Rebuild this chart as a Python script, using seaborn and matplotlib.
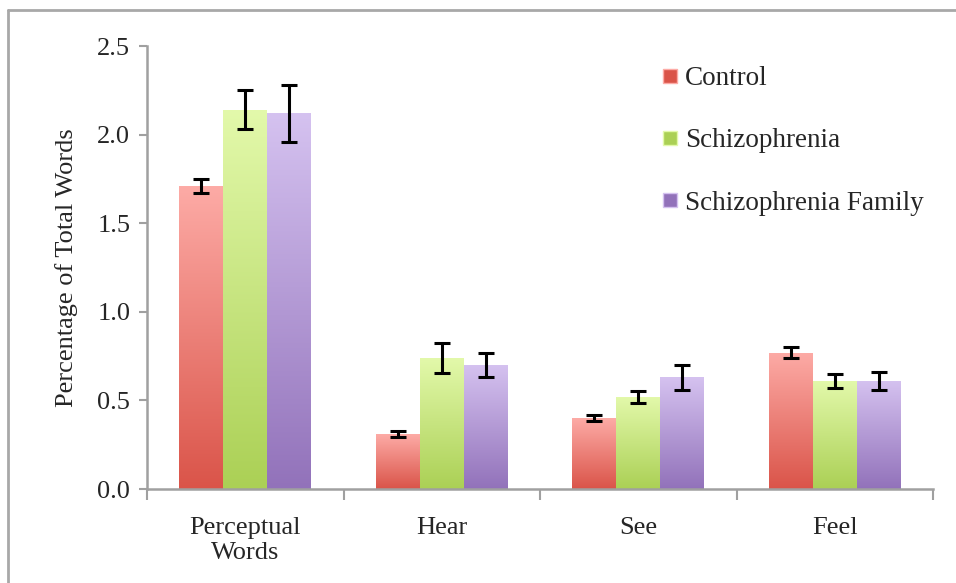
import numpy as np
import pandas as pd
import matplotlib
matplotlib.use("Agg")
import matplotlib.pyplot as plt
import seaborn as sns
from matplotlib.colors import LinearSegmentedColormap
from matplotlib.lines import Line2D

# Data
categories = ["Perceptual\nWords", "Hear", "See", "Feel"]
groups = ["Control", "Schizophrenia", "Schizophrenia Family"]
control = [1.71, 0.31, 0.40, 0.77]
schizo = [2.14, 0.74, 0.52, 0.61]
family = [2.12, 0.70, 0.63, 0.61]
control_err = [0.04, 0.015, 0.015, 0.03]
schizo_err = [0.11, 0.085, 0.035, 0.04]
family_err = [0.16, 0.065, 0.07, 0.05]

# gradient colours, (bottom, top)
grad = {"Control": ("#da5449", "#fdaba6"),
        "Schizophrenia": ("#abd055", "#e3f9ab"),
        "Schizophrenia Family": ("#9272ba", "#d5c2f0")}

df = pd.DataFrame({
    "category": categories * 3,
    "group": [g for g in groups for _ in categories],
    "value": control + schizo + family,
    "err": control_err + schizo_err + family_err,
})

sns.set_style("white")
plt.rcParams["font.family"] = ["Liberation Serif", "DejaVu Serif"]
FS = 19

fig = plt.figure(figsize=(9.56, 5.83), dpi=100)
ax = fig.add_axes([0.1538, 0.1612, 0.976 - 0.1538, 0.921 - 0.1612])

palette = {g: grad[g][0] for g in groups}
sns.barplot(data=df, x="category", y="value", hue="group", order=categories,
            hue_order=groups, palette=palette, width=0.67, errorbar=None,
            ax=ax, legend=False, linewidth=0, saturation=1)

# gradient fill + error bars, per hue container
gradient = np.linspace(0, 1, 256).reshape(-1, 1)
for cont, g in zip(ax.containers, groups):
    cmap = LinearSegmentedColormap.from_list(g, list(grad[g]))
    sub = df[df.group == g].set_index("category").loc[categories]
    for bar, v, e in zip(cont, sub["value"], sub["err"]):
        x0, y0 = bar.get_x(), bar.get_y()
        w, h = bar.get_width(), bar.get_height()
        bar.set_facecolor("none")
        im = ax.imshow(gradient, cmap=cmap, origin="lower", aspect="auto",
                       extent=[x0, x0 + w, y0, y0 + h], zorder=2)
        im.set_clip_path(bar)
        ax.errorbar(x0 + w / 2, v, yerr=e, fmt="none", ecolor="black",
                    elinewidth=2.2, capsize=6, capthick=2.2, zorder=4)

ax.set_xlim(-0.5, 3.5)
ax.set_ylim(0, 2.5)

# axes styling
for s in ["top", "right"]:
    ax.spines[s].set_visible(False)
for s in ["left", "bottom"]:
    ax.spines[s].set_color("#a0a0a0")
    ax.spines[s].set_linewidth(1.8)
ax.set_yticks([0, 0.5, 1.0, 1.5, 2.0, 2.5])
ax.set_yticklabels(["0.0", "0.5", "1.0", "1.5", "2.0", "2.5"])
ax.tick_params(axis="y", direction="out", length=6, width=1.5,
               color="#a0a0a0", labelsize=FS, pad=6, left=True)
ax.set_xticks(range(4))
ax.set_xticklabels(categories)
ax.tick_params(axis="x", which="major", length=0, labelsize=FS, pad=20)
ax.set_xticks([-0.5, 0.5, 1.5, 2.5, 3.5], minor=True)
ax.tick_params(axis="x", which="minor", direction="out", length=8,
               width=1.5, color="#a0a0a0", bottom=True)
ax.set_xlabel("")
ax.set_ylabel("Percentage of Total Words", fontsize=FS, labelpad=14)

handles = [Line2D([0], [0], marker="s", linestyle="none", markersize=10,
                  markerfacecolor=grad[g][0], markeredgecolor=grad[g][1],
                  label=g) for g in groups]
ax.legend(handles=handles, loc="upper left", bbox_to_anchor=(0.621, 1.01),
          frameon=False, fontsize=FS + 0.5, labelspacing=1.38,
          handletextpad=0.15, handlelength=0.8)

# grey frame around the figure (top and left visible)
fig.add_artist(Line2D([8 / 956, 8 / 956], [0, 1 - 10 / 583],
                      transform=fig.transFigure, color="#a8a8a8", lw=2))
fig.add_artist(Line2D([8 / 956, 1], [1 - 10 / 583, 1 - 10 / 583],
                      transform=fig.transFigure, color="#a8a8a8", lw=2))

fig.savefig("out.png", dpi=100)
